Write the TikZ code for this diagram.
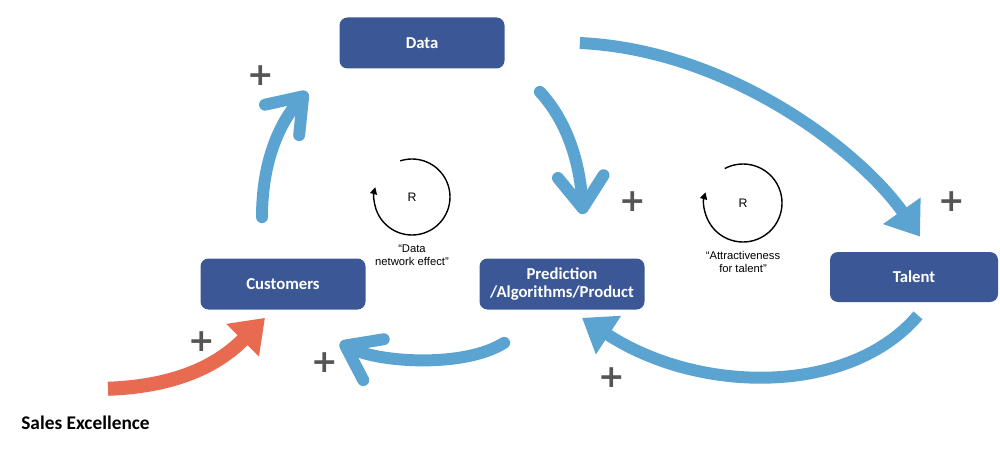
\documentclass[tikz,border=0pt]{standalone}
\usepackage{fontspec}
\setmainfont{Carlito}
\newfontfamily\loopfont{Liberation Sans}
\newfontfamily\signfont{DejaVu Sans}
\usetikzlibrary{arrows.meta,calc}
\definecolor{boxblue}{RGB}{59,87,150}
\definecolor{flowblue}{RGB}{91,163,208}
\definecolor{salesred}{RGB}{232,106,80}
\definecolor{signgray}{RGB}{85,85,85}
\tikzset{
  stock/.style={rectangle, rounded corners=1.6mm, fill=boxblue, text=white,
    font=\fontsize{9.5}{10.5}\selectfont\bfseries, align=center,
    minimum width=33mm, minimum height=10.2mm, inner sep=1pt},
  flow/.style={draw=flowblue, line width=6.8pt, line cap=round},
  barb/.style={flow, -{Straight Barb[length=18pt,width=26pt,round]}},
  tri/.style={flow, line cap=butt, -{Triangle[length=18pt,width=25pt]}},
  sales/.style={draw=salesred, line width=8pt, -{Triangle[length=18pt,width=25pt]}},
  sign/.style={text=signgray, font=\signfont\bfseries\fontsize{18}{18}\selectfont, inner sep=0pt},
  loopname/.style={font=\loopfont\fontsize{7}{8}\selectfont, inner sep=0pt},
  looptext/.style={font=\loopfont\fontsize{6.4}{7.6}\selectfont, align=center, inner sep=0pt},
  cyclearrow/.style={draw=black, line width=0.8pt, -{Triangle[length=4pt,width=4pt]}}
}
\begin{document}
\begin{tikzpicture}[x=0.2mm, y=-0.2mm]
  \useasboundingbox (0,0) rectangle (1000,451);
  % Define nodes
  \node[stock] (Data) at (422,43) {Data};
  \node[stock] (Customers) at (283,284) {Customers};
  \node[stock] (Prediction) at (562,284) {Prediction\\/Algorithms/Product};
  \node[stock, minimum width=33.6mm, minimum height=10mm] (Talent) at (914,277) {Talent};
  \node[font=\fontsize{11}{12}\selectfont\bfseries, anchor=west, inner sep=0pt] (Sales) at (21,423) {Sales Excellence};

  % Loops
  \node[loopname] (R1) at (412,197) {R};
  \node[looptext] (L1) at (412,255) {“Data\\network effect”};
  \node[loopname] (R2) at (743,203) {R};
  \node[looptext] (L2) at (743,262) {“Attractiveness\\for talent”};
  \draw[cyclearrow] (R1) ++(-108:38) arc[start angle=-108, end angle=195, radius=38];
  \draw[cyclearrow] (R2) ++(-118:39) arc[start angle=-118, end angle=196, radius=39];

  % Connect the nodes
  \draw[barb] ($(Customers.north)+(-21,-41)$) .. controls +(0,-60) and +(-25,28) .. ($(Data.south west)+(-32,23)$);
  \draw[barb] ($(Data.south east)+(35,23)$) .. controls +(28,30) and +(-3,-50) .. ($(Prediction.north)+(21,-44)$);
  \draw[tri] ($(Data.east)+(75,0)$) .. controls +(150,7) and +(-60,-85) .. ($(Talent.north)+(6,-15)$);
  \draw[tri] ($(Talent.south)+(4,13)$) .. controls +(-68,80) and +(118,77) .. ($(Prediction.south)+(20,8)$);
  \draw[barb] ($(Prediction.south west)+(25,33)$) .. controls +(-40,25) and +(40,20) .. ($(Customers.south east)+(-26,33)$);
  \draw[sales] ($(Sales.north west)+(87,-27)$) .. controls +(80,-3) and +(-40,40) .. ($(Customers.south)+(-18,8)$);

  % Signs
  \foreach \x/\y [count=\i] in {261/76, 633/202, 952/202, 202/342, 325/363, 612/378}
    \node[sign] (plus\i) at (\x,\y) {+};
\end{tikzpicture}
\end{document}
